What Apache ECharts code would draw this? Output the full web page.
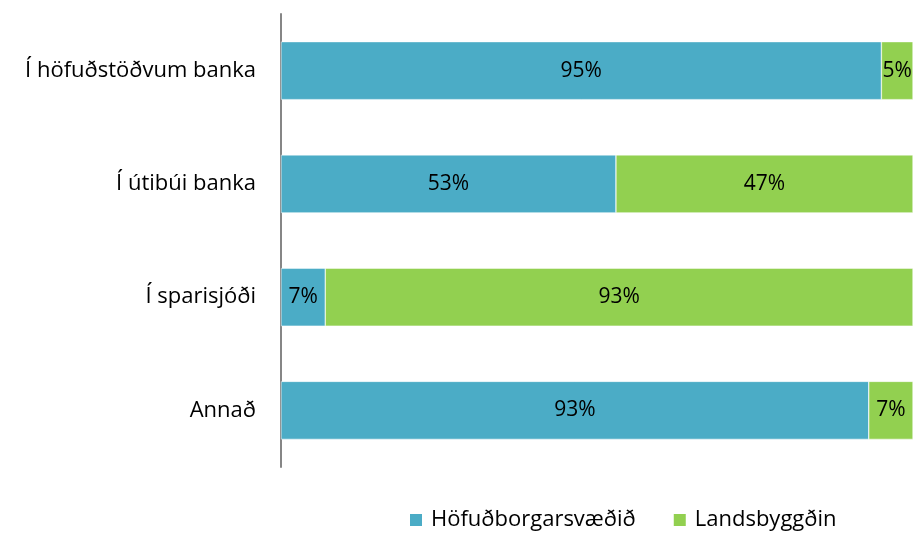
<!DOCTYPE html>
<html>
<head>
<meta charset="utf-8">
<script src="https://cdn.jsdelivr.net/npm/echarts@6/dist/echarts.min.js"></script>
<style>
  html, body { margin: 0; padding: 0; background: #fff; }
  #chart { width: 916px; height: 535px; }
</style>
</head>
<body>
<div id="chart"></div>
<script>
var categories = ['Í höfuðstöðvum banka', 'Í útibúi banka', 'Í sparisjóði', 'Annað'];
var seriesNames = ['Höfuðborgarsvæðið', 'Landsbyggðin'];
var capitalValues = [95, 53, 7, 93];
var ruralValues = [5, 47, 93, 7];

var myChart = echarts.init(document.getElementById('chart'));
var font = '"Open Sans", Lato, sans-serif';

function pct(p) {
    return p.value + '%';
}

var option = {
    animation: false,
    textStyle: { fontFamily: font },
    color: ['#4BACC6', '#92D050'],
    grid: {
        left: 281,
        right: 3,
        top: 14,
        bottom: 68
    },
    legend: {
        data: seriesNames,
        top: 504,
        left: 403,
        itemWidth: 14,
        itemHeight: 14,
        itemGap: 36,
        icon: 'rect',
        textStyle: { fontSize: 22, color: '#000', fontFamily: font, padding: [0, 0, 0, 3] }
    },
    xAxis: {
        type: 'value',
        min: 0,
        max: 100,
        show: false
    },
    yAxis: {
        type: 'category',
        inverse: true,
        data: categories,
        axisLine: { show: true, lineStyle: { color: '#868686', width: 2 } },
        axisTick: { show: false },
        axisLabel: { fontSize: 22, color: '#000', margin: 25, fontFamily: font }
    },
    series: [{
        name: seriesNames[0],
        type: 'bar',
        stack: 'total',
        barWidth: 58,
        itemStyle: { borderColor: '#fff', borderWidth: 0.5 },
        label: { show: true, position: 'inside', color: '#000', fontSize: 21, formatter: pct },
        data: capitalValues
    }, {
        name: seriesNames[1],
        type: 'bar',
        stack: 'total',
        barWidth: 58,
        itemStyle: { borderColor: '#fff', borderWidth: 0.5 },
        label: { show: true, position: 'inside', color: '#000', fontSize: 21, formatter: pct },
        data: ruralValues
    }]
};

myChart.setOption(option);

window.onresize = function() {
    myChart.resize();
}
</script>
</body>
</html>
